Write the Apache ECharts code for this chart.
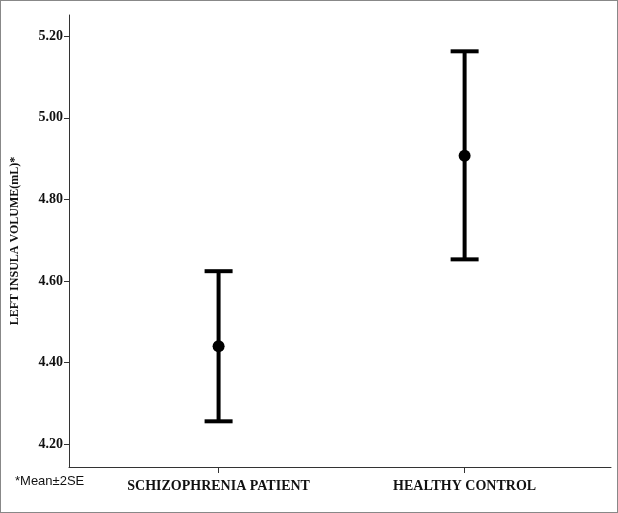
<!DOCTYPE html>
<html><head><meta charset="utf-8">
<script src="https://cdn.jsdelivr.net/npm/echarts@6/dist/echarts.min.js"></script>
<style>html,body{margin:0;padding:0;background:#fff}#c{width:618px;height:513px;box-sizing:border-box;border:1px solid #888}</style>
</head><body><div id="c"></div>
<script>
var categories = ['SCHIZOPHRENIA PATIENT', 'HEALTHY CONTROL'];
var means = [4.44, 4.907];
var lowers = [4.256, 4.653];
var uppers = [4.624, 5.163];
var yTicks = [4.2, 4.4, 4.6, 4.8, 5.0, 5.2];

var chart = echarts.init(document.getElementById('c'));
var serif = 'Liberation Serif';
chart.setOption({
  animation: false,
  grid: {left: 67, right: 6, top: 14, bottom: 45},
  xAxis: {
    type: 'value', min: -0.608, max: 1.595,
    splitLine: {show: false},
    axisLine: {show: true, onZero: false, lineStyle: {color: '#333', width: 1}},
    axisTick: {show: true, customValues: [0, 1], length: 6, lineStyle: {color: '#333'}},
    axisLabel: {customValues: [0, 1], formatter: function (v) { return categories[Math.round(v)]; },
      fontFamily: serif, fontWeight: 'bold', fontSize: 14, color: '#111', margin: 12}
  },
  yAxis: {
    type: 'value', min: 4.144, max: 5.252,
    name: 'LEFT INSULA VOLUME(mL)*', nameLocation: 'middle', nameGap: 48,
    nameTextStyle: {fontFamily: serif, fontWeight: 'bold', fontSize: 12, color: '#111'},
    splitLine: {show: false},
    axisLine: {show: true, onZero: false, lineStyle: {color: '#333', width: 1}},
    axisTick: {show: true, customValues: yTicks, length: 5, lineStyle: {color: '#333'}},
    axisLabel: {customValues: yTicks, formatter: function (v) { return v.toFixed(2); },
      fontFamily: serif, fontWeight: 'bold', fontSize: 14, color: '#111', margin: 6}
  },
  graphic: [{type: 'text', left: 14, top: 474, style: {text: '*Mean\u00b12SE', font: '13px Liberation Sans', fill: '#111'}}],
  series: [{
    type: 'custom',
    data: categories.map(function (c, i) { return [i, lowers[i], uppers[i]]; }),
    renderItem: function (params, api) {
      var lo = api.coord([api.value(0), api.value(1)]);
      var hi = api.coord([api.value(0), api.value(2)]);
      var w = 14;
      var st = {stroke: '#000', lineWidth: 4};
      return {type: 'group', children: [
        {type: 'line', shape: {x1: lo[0], y1: lo[1], x2: hi[0], y2: hi[1]}, style: st},
        {type: 'line', shape: {x1: lo[0] - w, y1: lo[1], x2: lo[0] + w, y2: lo[1]}, style: st},
        {type: 'line', shape: {x1: hi[0] - w, y1: hi[1], x2: hi[0] + w, y2: hi[1]}, style: st}
      ]};
    }
  }, {
    type: 'scatter', symbolSize: 12, z: 5, itemStyle: {color: '#000', opacity: 1},
    data: means.map(function (m, i) { return [i, m]; })
  }]
});
</script></body></html>
